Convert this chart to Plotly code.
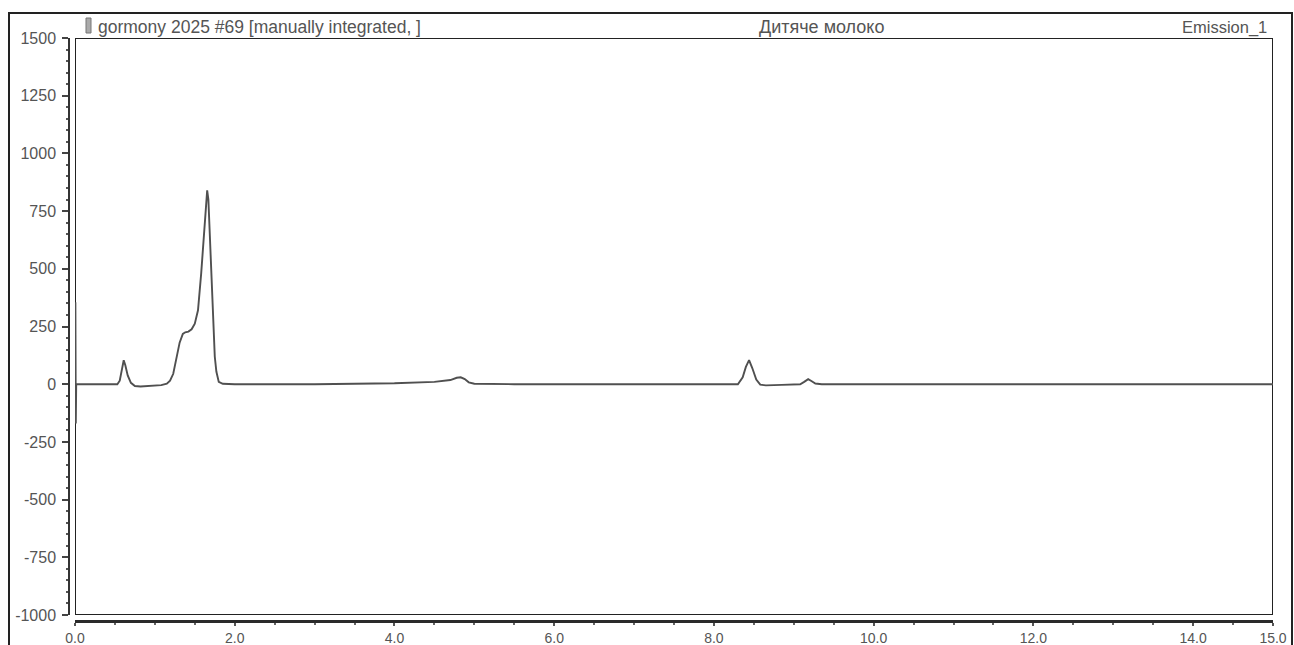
import plotly.graph_objects as go

# Retention time (min) and signal (emission units)
time_min = [0.0, 0.005, 0.010, 0.015, 0.03, 0.53, 0.56, 0.59, 0.61, 0.63, 0.66, 0.70, 0.75, 0.82,
            0.95, 1.08, 1.15, 1.19, 1.23, 1.27, 1.31, 1.35, 1.38, 1.42, 1.46, 1.50, 1.54,
            1.58, 1.62, 1.655, 1.67, 1.69, 1.72, 1.75, 1.77, 1.80, 1.85, 2.0, 3.0, 4.0,
            4.5, 4.70, 4.78, 4.83, 4.88, 4.93, 5.0, 5.5, 8.30, 8.36, 8.40, 8.44, 8.48, 8.53,
            8.58, 8.65, 8.85, 9.08, 9.13, 9.18, 9.22, 9.27, 9.35, 12.0, 15.0]
signal = [0, 355, -170, 0, 0, 0, 15, 70, 104, 82, 38, 6, -8, -10,
          -8, -4, 2, 15, 45, 110, 180, 218, 225, 228, 238, 262, 320,
          480, 680, 840, 800, 620, 330, 120, 55, 10, 2, 0, 0, 4,
          10, 18, 28, 30, 22, 8, 2, 0, 0, 30, 75, 104, 70, 20,
          -2, -5, -3, 0, 10, 22, 14, 3, 0, 0, 0]

y_ticks = [-1000, -750, -500, -250, 0, 250, 500, 750, 1000, 1250, 1500]
y_tick_labels = ["-1000", "-750", "-500", "-250", "0", "250", "500", "750", "1000", "1250", "1500"]
x_ticks = [0, 2, 4, 6, 8, 10, 12, 14, 15]
x_tick_labels = ["0.0", "2.0", "4.0", "6.0", "8.0", "10.0", "12.0", "14.0", "15.0"]

FONT = "Liberation Sans"
TXT = "#555555"

W, H = 1294, 645
ML, MR, MT, MB = 69, 21, 38, 24
PW = W - ML - MR
PH = H - MT - MB

fig = go.Figure()
fig.add_trace(go.Scatter(x=time_min, y=signal, mode="lines",
                         line=dict(color="#505050", width=1.9),
                         hoverinfo="x+y", showlegend=False))

fig.update_layout(
    width=W, height=H,
    margin=dict(l=ML, r=MR, t=MT, b=MB, autoexpand=False),
    paper_bgcolor="white", plot_bgcolor="white",
    font=dict(family=FONT, size=15, color=TXT),
    xaxis=dict(domain=[6 / PW, 1], range=[0, 15], anchor="free", position=0,
               automargin=False,
               showline=True, linecolor="#2a2a2a", linewidth=2.5,
               ticks="outside", ticklen=3, tickwidth=2, tickcolor="#555",
               tickvals=x_ticks, ticktext=x_tick_labels,
               minor=dict(dtick=0.5, ticklen=2, tickwidth=1.5, tickcolor="#666", ticks="outside"),
               showgrid=False, zeroline=False, ticklabelstandoff=0,
               tickfont=dict(family=FONT, size=14, color=TXT)),
    yaxis=dict(domain=[6 / PH, 1], range=[-1000, 1500], anchor="free", position=0,
               automargin=False,
               showline=True, linecolor="#333", linewidth=1.5,
               ticks="outside", ticklen=6, tickwidth=1.5, tickcolor="#444",
               tickvals=y_ticks, ticktext=y_tick_labels,
               minor=dict(dtick=50, ticklen=2, tickwidth=1.5, tickcolor="#555", ticks="outside"),
               showgrid=False, zeroline=False, ticklabelstandoff=3,
               tickfont=dict(family=FONT, size=16, color=TXT)),
)

def px_x(px):
    return (px - ML) / PW

def px_y(py):
    return (H - MB - py) / PH

# inner plot box
fig.add_shape(type="rect", xref="x", yref="y", x0=0, x1=15, y0=-1000, y1=1500,
              line=dict(color="#222", width=2), layer="below")
# outer frame
fig.add_shape(type="rect", xref="paper", yref="paper",
              x0=px_x(9), x1=px_x(1292), y0=px_y(660), y1=px_y(13),
              line=dict(color="#222", width=2))
# small document icon
fig.add_shape(type="rect", xref="paper", yref="paper",
              x0=px_x(86), x1=px_x(91), y0=px_y(33), y1=px_y(18),
              line=dict(color="#777", width=1), fillcolor="#aaaaaa")

fig.add_annotation(text="gormony 2025 #69 [manually integrated, ]", xref="paper", yref="paper",
                   x=px_x(96), y=px_y(27), xanchor="left", yanchor="middle", showarrow=False,
                   font=dict(family=FONT, size=17.5, color=TXT))
fig.add_annotation(text="Дитяче молоко", xref="paper", yref="paper",
                   x=px_x(821), y=px_y(27), xanchor="center", yanchor="middle", showarrow=False,
                   font=dict(family=FONT, size=18, color=TXT))
fig.add_annotation(text="Emission_1", xref="paper", yref="paper",
                   x=px_x(1269), y=px_y(27), xanchor="right", yanchor="middle", showarrow=False,
                   font=dict(family=FONT, size=16.5, color=TXT))

fig.write_html("out.html")
